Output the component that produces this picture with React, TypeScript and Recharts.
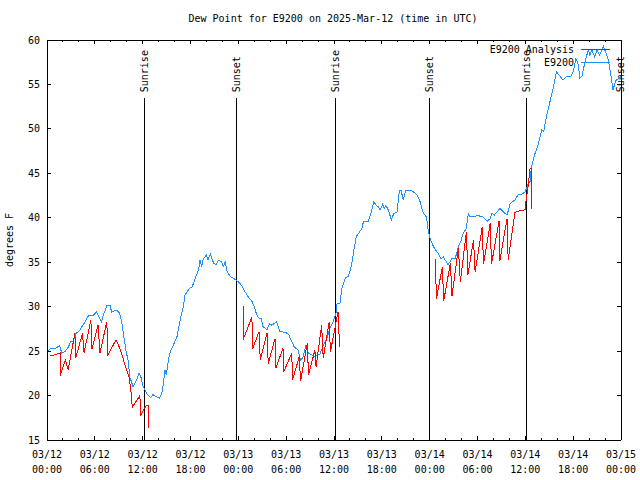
import React from 'react';
import { LineChart, Line, XAxis, YAxis, ReferenceLine, Legend } from 'recharts';

const TITLE = 'Dew Point for E9200 on 2025-Mar-12 (time in UTC)';
const Y_TITLE = 'degrees F';
const SERIES_NAMES = ['E9200 Analysis', 'E9200'];
const FONT = '"DejaVu Sans Mono", "Liberation Mono", monospace';

// x values are hours since 03/12 00:00 UTC
const X_TICKS = [0, 2, 4, 6, 8, 10, 12, 14, 16, 18, 20, 22, 24, 26, 28, 30, 32, 34, 36,
  38, 40, 42, 44, 46, 48, 50, 52, 54, 56, 58, 60, 62, 64, 66, 68, 70, 72];
const X_LABEL_HOURS = [0, 6, 12, 18, 24, 30, 36, 42, 48, 54, 60, 66, 72];
const X_LABEL_DATES = ['03/12', '03/12', '03/12', '03/12', '03/13', '03/13', '03/13',
  '03/13', '03/14', '03/14', '03/14', '03/14', '03/15'];
const X_LABEL_TIMES = ['00:00', '06:00', '12:00', '18:00', '00:00', '06:00', '12:00',
  '18:00', '00:00', '06:00', '12:00', '18:00', '00:00'];
const Y_TICKS = [15, 20, 25, 30, 35, 40, 45, 50, 55, 60];

const SUN_LABELS = ['Sunrise', 'Sunset', 'Sunrise', 'Sunset', 'Sunrise', 'Sunset'];
const SUN_HOURS = [12.2, 23.75, 36.15, 47.95, 60.1, 72];
const SUN_LINE_TOP = 53.45;

// E9200 observations [hour, degF]
const E9200: [number, number][] = [
  [0, 24.8], [0.4, 25.3], [1.0, 25.3], [1.6, 25.6], [1.85, 24.75], [2.3, 25.0], [2.7, 25.5],
  [3.0, 26.1], [3.3, 26.1], [3.65, 27.0], [4.0, 27.2], [4.35, 27.7], [4.8, 28.3], [5.2, 29.0],
  [5.8, 29.0], [6.2, 29.4], [6.65, 28.6], [6.85, 28.3], [7.05, 29.0], [7.5, 30.1], [7.9, 30.2],
  [8.1, 29.4], [8.4, 29.5], [8.75, 29.6], [9.1, 29.3], [9.4, 28.1], [9.6, 26.8], [9.9, 25.1],
  [10.2, 23.8], [10.4, 22.05], [10.8, 21.0], [11.25, 21.75], [11.55, 22.5], [11.75, 22.2],
  [12.0, 21.2], [12.2, 20.8], [12.45, 20.3], [12.7, 20.0], [13.0, 19.8], [13.3, 20.1],
  [13.6, 19.9], [14.1, 19.7], [14.4, 20.25], [14.6, 21.4], [14.8, 22.9], [14.95, 22.3],
  [15.2, 23.8], [15.4, 24.75], [15.85, 25.7], [16.3, 26.6], [16.7, 28.5], [17.1, 30.0],
  [17.3, 31.3], [17.9, 32.1], [18.2, 32.2], [18.6, 33.2], [19.0, 34.1], [19.2, 35.25],
  [19.4, 34.5], [19.6, 35.4], [20.0, 35.8], [20.2, 35.3], [20.5, 35.9], [20.9, 34.9],
  [21.2, 34.7], [21.5, 35.2], [21.9, 35.1], [22.1, 34.5], [22.35, 35.0], [22.6, 33.9],
  [23.0, 33.4], [23.4, 33.2], [24.0, 32.8], [24.4, 32.4], [24.75, 31.8], [25.25, 31.1],
  [25.7, 30.6], [26.0, 30.0], [26.3, 29.1], [26.6, 28.7], [26.85, 28.7], [27.1, 27.75],
  [27.6, 27.4], [27.9, 28.1], [28.2, 27.9], [28.8, 28.3], [29.2, 27.2], [29.9, 27.1],
  [30.3, 26.9], [30.7, 26.05], [31.0, 25.5], [31.5, 25.1], [31.8, 24.0], [32.1, 24.3],
  [32.5, 25.7], [32.8, 24.75], [33.2, 24.6], [33.6, 24.4], [33.9, 24.6], [34.2, 24.6],
  [34.7, 25.7], [35.1, 26.4], [35.5, 27.6], [35.9, 28.3], [36.25, 29.3], [36.35, 30.3],
  [36.75, 30.4], [37.0, 32.1], [37.4, 33.2], [37.8, 33.4], [38.1, 34.3], [38.3, 35.25],
  [38.5, 36.4], [38.8, 37.9], [39.2, 38.4], [39.5, 38.8], [39.7, 39.6], [40.3, 39.6],
  [40.5, 40.1], [40.7, 40.7], [41.0, 41.8], [41.3, 41.4], [41.6, 41.2], [41.8, 40.9],
  [42.1, 41.5], [42.3, 41.0], [42.5, 41.4], [42.8, 40.9], [43.2, 39.75], [43.5, 40.5],
  [43.9, 40.6], [44.2, 43.1], [44.4, 43.1], [44.7, 42.0], [45.0, 43.1], [45.7, 43.1],
  [46.4, 42.6], [46.8, 41.8], [47.2, 40.5], [47.6, 40.1], [47.8, 38.7], [48.0, 37.8],
  [48.4, 36.9], [48.7, 36.4], [49.1, 36.0], [49.4, 35.4], [49.7, 35.6], [50.05, 35.1],
  [50.3, 34.7], [50.8, 35.4], [51.2, 35.4], [51.6, 36.75], [51.9, 37.3], [52.2, 38.25],
  [52.6, 38.8], [52.85, 40.5], [53.06, 40.1], [53.6, 40.1], [54.1, 40.3], [54.4, 40.1],
  [54.7, 40.1], [55.2, 39.6], [55.6, 39.9], [55.8, 40.5], [56.1, 40.3], [56.4, 40.6],
  [56.8, 41.05], [57.2, 40.7], [57.7, 40.3], [58.1, 41.6], [58.7, 42.0], [59.1, 42.6],
  [59.5, 42.6], [59.96, 42.9], [60.4, 43.9], [60.6, 44.1], [60.75, 45.6], [61.2, 47.2],
  [61.6, 48.2], [62.05, 49.9], [62.3, 49.7], [62.7, 51.6], [63.1, 53.1], [63.5, 54.6],
  [63.9, 56.4], [64.3, 56.0], [64.7, 55.5], [65.2, 55.9], [65.7, 55.9], [66.0, 56.4],
  [66.35, 57.9], [66.6, 57.4], [66.85, 55.7], [67.1, 55.9], [67.5, 57.6], [67.9, 58.9],
  [68.1, 58.3], [68.35, 58.9], [68.7, 58.1], [69.0, 58.9], [69.3, 58.3], [69.8, 59.25],
  [70.1, 58.6], [70.4, 57.75], [70.6, 56.8], [70.85, 55.3], [71.0, 54.4], [71.2, 55.0],
  [71.4, 55.5], [71.8, 55.7], [72.0, 55.9],
];

// E9200 analysis, three runs of hourly sawtooth [hour, degF]
const ANALYSIS_1: [number, number][] = [
  [0.45, 24.45], [1.65, 24.8], [1.65, 22.2], [2.3, 24.0], [2.65, 22.9], [3.5, 27.0],
  [3.6, 24.2], [4.45, 27.0], [4.65, 24.8], [5.5, 28.5], [5.65, 25.2], [6.4, 27.9],
  [6.65, 24.8], [7.5, 28.3], [7.65, 24.6], [8.65, 26.25], [9.0, 25.6], [9.4, 24.6],
  [9.8, 23.4], [10.3, 22.05], [10.5, 20.8], [10.7, 18.7], [11.65, 20.0], [11.75, 17.8],
  [12.45, 18.9], [12.7, 18.9], [12.7, 16.4],
];
const ANALYSIS_2: [number, number][] = [
  [24.6, 30.1], [24.6, 26.3], [25.7, 28.8], [25.8, 25.3], [26.6, 27.2], [26.75, 24.0],
  [27.6, 27.0], [27.75, 23.6], [28.6, 26.4], [28.7, 23.1], [29.6, 25.3], [29.7, 22.7],
  [30.7, 24.75], [30.8, 21.75], [31.65, 24.4], [31.8, 21.6], [32.65, 25.9], [32.8, 22.3],
  [33.6, 25.1], [33.75, 23.25], [34.45, 27.9], [34.65, 24.2], [35.4, 28.3], [35.55, 24.9],
  [36.5, 29.4], [36.7, 25.5],
];
const ANALYSIS_3: [number, number][] = [
  [48.7, 35.4], [48.85, 30.9], [49.6, 34.5], [49.75, 30.6], [50.6, 34.9], [50.8, 31.2],
  [51.6, 36.6], [51.85, 32.8], [52.6, 38.4], [52.8, 33.6], [53.5, 37.5], [53.7, 33.9],
  [54.6, 39.0], [54.75, 34.75], [55.6, 39.4], [55.75, 34.75], [56.7, 39.6], [56.8, 35.1],
  [57.7, 39.9], [57.85, 35.3], [58.7, 40.6], [59.3, 40.8], [60.0, 40.9], [60.1, 42.0],
  [60.4, 43.9], [60.6, 45.6], [60.75, 45.6], [60.8, 41.0],
];

const RED = '#ff0000';
const BLUE = '#1e90ff';

const toPts = (arr: [number, number][]) => arr.map(([h, v]) => ({ h, v }));
const obsData = toPts(E9200);
// null rows break the analysis line between runs
const analysisData = [
  ...toPts(ANALYSIS_1),
  { h: 18, v: null },
  ...toPts(ANALYSIS_2),
  { h: 42, v: null },
  ...toPts(ANALYSIS_3),
];

const txt = { fontFamily: FONT, fontSize: 10, fill: '#000' };
const crisp = { stroke: '#000', shapeRendering: 'crispEdges' as const };

function BottomTick(props: any) {
  const { x, y, payload } = props;
  const i = X_LABEL_HOURS.indexOf(payload.value);
  const len = i >= 0 ? 4 : 2;
  return (
    <g>
      <line x1={x} x2={x} y1={y} y2={y - len} {...crisp} />
      {i >= 0 && (
        <>
          <text x={x} y={y + 14} textAnchor="middle" dominantBaseline="central" {...txt}>
            {X_LABEL_DATES[i]}
          </text>
          <text x={x} y={y + 29} textAnchor="middle" dominantBaseline="central" {...txt}>
            {X_LABEL_TIMES[i]}
          </text>
        </>
      )}
    </g>
  );
}

function TopTick(props: any) {
  const { x, y, payload } = props;
  const len = X_LABEL_HOURS.includes(payload.value) ? 4 : 2;
  return <line x1={x} x2={x} y1={y} y2={y + len} {...crisp} />;
}

function LeftTick(props: any) {
  const { x, y, payload } = props;
  return (
    <g>
      <line x1={x} x2={x + 4} y1={y} y2={y} {...crisp} />
      <text x={x - 7} y={y} textAnchor="end" dominantBaseline="central" {...txt}>
        {payload.value}
      </text>
    </g>
  );
}

function RightTick(props: any) {
  const { x, y } = props;
  return <line x1={x} x2={x - 4} y1={y} y2={y} {...crisp} />;
}

function SunLabel(props: any) {
  const { viewBox, text } = props;
  const x = viewBox.x;
  const y = viewBox.y - 6;
  return (
    <text
      x={x}
      y={y}
      transform={`rotate(-90 ${x} ${y})`}
      textAnchor="start"
      dominantBaseline="central"
      {...txt}
    >
      {text}
    </text>
  );
}

function LegendBox() {
  return (
    <svg width={190} height={30} style={{ display: 'block' }}>
      <text x={134} y={9.5} textAnchor="end" dominantBaseline="central" {...txt}>
        {SERIES_NAMES[0]}
      </text>
      <line x1={141} x2={170} y1={9.5} y2={9.5} stroke={RED} shapeRendering="crispEdges" />
      <text x={134} y={22.5} textAnchor="end" dominantBaseline="central" {...txt}>
        {SERIES_NAMES[1]}
      </text>
      <line x1={141} x2={170} y1={22.5} y2={22.5} stroke={BLUE} shapeRendering="crispEdges" />
    </svg>
  );
}

export default function App() {
  return (
    <div style={{ position: 'absolute', left: 0, top: 0, width: 640, height: 480, background: '#fff' }}>
      <div
        style={{
          position: 'absolute', left: 0, width: 666, top: 12, textAlign: 'center',
          fontFamily: FONT, fontSize: 10, lineHeight: '14px', color: '#000',
        }}
      >
        {TITLE}
      </div>
      <div
        style={{
          position: 'absolute', left: 10, top: 240, width: 0, height: 0,
        }}
      >
        <div
          style={{
            position: 'absolute', left: -60, top: -7, width: 120, textAlign: 'center',
            transform: 'rotate(-90deg)', fontFamily: FONT, fontSize: 10, lineHeight: '14px',
            color: '#000', whiteSpace: 'nowrap',
          }}
        >
          {Y_TITLE}
        </div>
      </div>
      <LineChart width={640} height={480} margin={{ top: 0, right: 0, bottom: 0, left: 0 }}>
        <XAxis
          type="number"
          dataKey="h"
          domain={[0, 72]}
          ticks={X_TICKS}
          interval={0}
          allowDataOverflow
          height={40}
          tickLine={false}
          tickSize={0}
          tickMargin={0}
          axisLine={crisp}
          tick={(p: any) => <BottomTick {...p} />}
        />
        <XAxis
          xAxisId="top"
          orientation="top"
          type="number"
          dataKey="h"
          domain={[0, 72]}
          ticks={X_TICKS}
          interval={0}
          allowDataOverflow
          height={40}
          tickLine={false}
          tickSize={0}
          tickMargin={0}
          axisLine={crisp}
          tick={(p: any) => <TopTick {...p} />}
        />
        <YAxis
          type="number"
          domain={[15, 60]}
          ticks={Y_TICKS}
          interval={0}
          allowDataOverflow
          width={47}
          tickLine={false}
          tickSize={0}
          tickMargin={0}
          axisLine={crisp}
          tick={(p: any) => <LeftTick {...p} />}
        />
        <YAxis
          yAxisId="right"
          orientation="right"
          type="number"
          domain={[15, 60]}
          ticks={Y_TICKS}
          interval={0}
          allowDataOverflow
          width={19}
          tickLine={false}
          tickSize={0}
          tickMargin={0}
          axisLine={crisp}
          tick={(p: any) => <RightTick {...p} />}
        />
        {SUN_HOURS.map((h, i) => (
          <ReferenceLine
            key={i}
            segment={[{ x: h, y: 15 }, { x: h, y: SUN_LINE_TOP }]}
            stroke="#000"
            strokeWidth={1}
            shapeRendering="crispEdges"
            ifOverflow="visible"
            label={<SunLabel text={SUN_LABELS[i]} />}
          />
        ))}
        <Line
          data={obsData}
          dataKey="v"
          name={SERIES_NAMES[1]}
          stroke={BLUE}
          strokeWidth={1}
          shapeRendering="crispEdges"
          dot={false}
          activeDot={false}
          isAnimationActive={false}
        />
        <Line
          data={analysisData}
          dataKey="v"
          name={SERIES_NAMES[0]}
          stroke={RED}
          strokeWidth={1}
          shapeRendering="crispEdges"
          dot={false}
          activeDot={false}
          connectNulls={false}
          isAnimationActive={false}
        />
        <Legend
          layout="vertical"
          align="center"
          verticalAlign="middle"
          wrapperStyle={{ left: 440, top: 40, width: 190, height: 30 }}
          content={() => <LegendBox />}
        />
      </LineChart>
    </div>
  );
}
